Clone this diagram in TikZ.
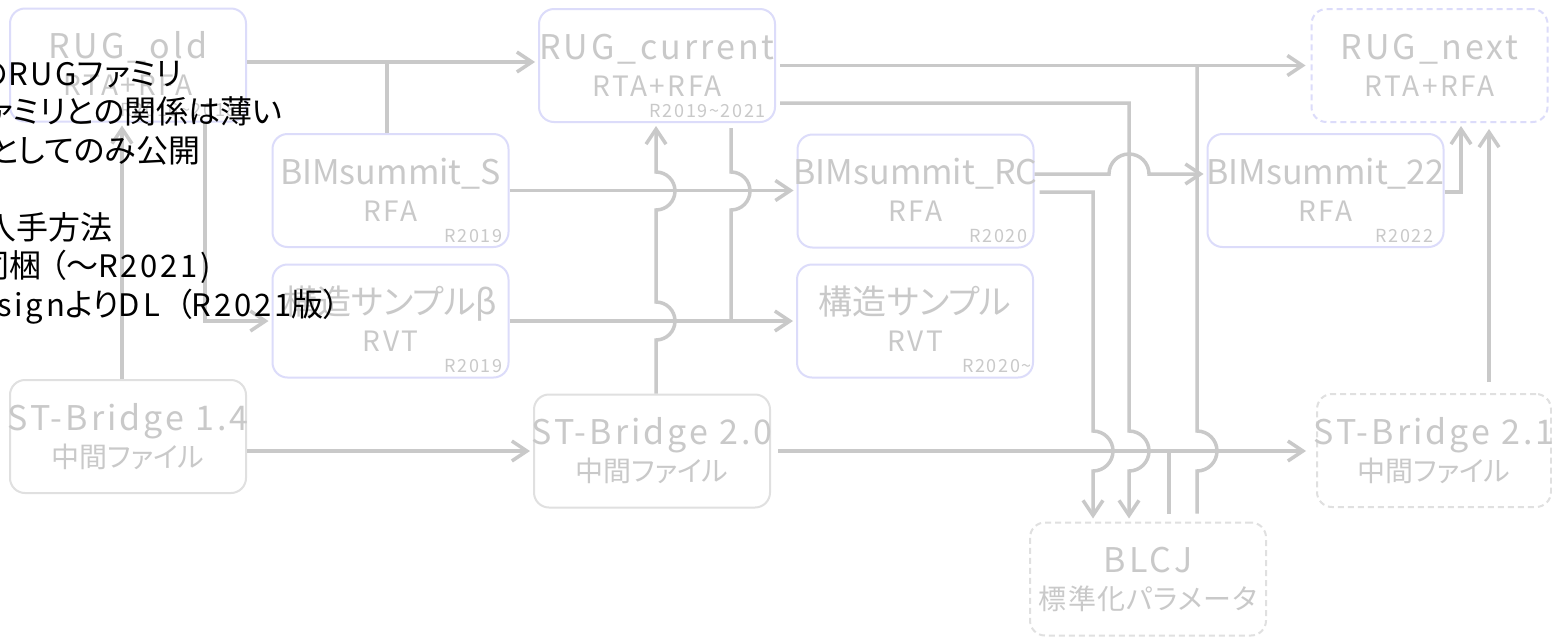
\documentclass[tikz,border=0pt]{standalone}
\usepackage{fontspec}
\setmainfont{Noto Sans CJK JP}[RawFeature=+palt]
\newfontfamily\nodefont{Noto Sans CJK JP}[RawFeature=+palt,LetterSpace=9]
\newfontfamily\nodefontn{Noto Sans CJK JP}[RawFeature=+palt]
\newfontfamily\nodefontm{Noto Sans CJK JP}[RawFeature=+palt,LetterSpace=4]
\newfontfamily\notelat{Noto Sans CJK JP}[LetterSpace=9]
\usetikzlibrary{arrows.meta}
\definecolor{lg}{HTML}{C9C9C9}
\definecolor{lav}{HTML}{DCDCFA}
\definecolor{bgr}{HTML}{E0E0E0}
\newcommand\latn[1]{{\notelat\fontsize{31}{38}\selectfont #1}}
\begin{document}
\begin{tikzpicture}[x=1pt,y=-1pt,
  box/.style={rounded corners=15pt,line width=2pt,inner sep=0pt,minimum width=236pt,minimum height=113pt},
  lavbox/.style={box,draw=lav},
  grbox/.style={box,draw=bgr},
  dsh/.style={dash pattern=on 6pt off 4pt},
  ta/.style={anchor=base,yshift=-51pt,inner sep=0pt,text=lg,font=\nodefont\fontsize{34}{40}\selectfont},
  tan/.style={ta,font=\nodefontn\fontsize{34}{40}\selectfont},
  tb/.style={anchor=base,yshift=-88pt,inner sep=0pt,text=lg,font=\nodefont\fontsize{28}{34}\selectfont},
  tbn/.style={tb,font=\nodefontn\fontsize{28}{34}\selectfont},
  tbm/.style={tb,font=\nodefontm\fontsize{28}{34}\selectfont},
  tc/.style={anchor=base east,xshift=-7pt,yshift=6pt,inner sep=0pt,text=lg,font=\nodefont\fontsize{18}{20}\selectfont},
  conn/.style={draw=lg,line width=3.5pt},
  arr/.style={conn,-{Straight Barb[length=15pt,width=20pt]},shorten >=3pt},
  note/.style={anchor=base west,inner sep=0pt,text=black,font=\fontsize{32}{38}\selectfont}]
\fill[white] (0,0) rectangle (1552,638);
\useasboundingbox (0,0) rectangle (1552,638);

% boxes
\node[lavbox,label={[ta]north:RUG\_old},label={[tb]north:RTA+RFA},label={[tc,xshift=-3pt]south east:R2016\textasciitilde 2018}] (rugold) at (128,65) {};
\node[lavbox,label={[ta]north:RUG\_current},label={[tb]north:RTA+RFA},label={[tc,xshift=-3pt]south east:R2019\textasciitilde 2021}] (rugcur) at (657,65.5) {};
\node[lavbox,dsh,label={[ta]north:RUG\_next},label={[tb]north:RTA+RFA}] (rugnext) at (1429.5,65.5) {};
\node[lavbox,label={[tan]north:BIMsummit\_S},label={[tb]north:RFA},label={[tc]south east:R2019}] (bims) at (390.5,190.5) {};
\node[lavbox,label={[tan]north:BIMsummit\_RC},label={[tb]north:RFA},label={[tc]south east:R2020}] (bimrc) at (915.5,191) {};
\node[lavbox,label={[tan]north:BIMsummit\_22},label={[tb]north:RFA},label={[tc,xshift=-4pt]south east:R2022}] (bim22) at (1325.5,190.5) {};
\node[lavbox,label={[tan]north:構造サンプルβ},label={[tb]north:RVT},label={[tc]south east:R2019}] (sampb) at (390.5,321) {};
\node[lavbox,label={[tan]north:構造サンプル},label={[tb]north:RVT},label={[tc,xshift=5pt]south east:R2020\textasciitilde}] (samp) at (915,321) {};
\node[grbox,label={[ta]north:ST-Bridge 1.4},label={[tbn]north:中間ファイル}] (stb14) at (128,436.5) {};
\node[grbox,label={[ta]north:ST-Bridge 2.0},label={[tbn]north:中間ファイル}] (stb20) at (652,451) {};
\node[grbox,dsh,minimum width=234pt,label={[ta]north:ST-Bridge 2.1},label={[tbn]north:中間ファイル}] (stb21) at (1434,450.5) {};
\node[grbox,dsh,label={[ta]north:BLCJ},label={[tbm]north:標準化パラメータ}] (blcj) at (1148,579) {};

% connectors
\coordinate (jB) at (387,62);
\coordinate (jL) at (731,321);
\coordinate (jO) at (1169,451);
\coordinate (jP) at (1197,65.5);
\draw[arr] (rugold.east |- jB) -- (rugcur.west |- jB);
\draw[conn] (bims.north -| jB) -- (jB);
\draw[arr] (stb14.north -| 122,0) -- (rugold.south -| 122,0);
\draw[arr] (rugold.south -| 205,0) |- (sampb.west);
\draw[arr] (stb14.east |- stb20.west) -- (stb20.west);
\draw[arr,shorten <=4pt,shorten >=5pt] (rugcur.east) -- (rugnext.west);
\draw[arr] (bims.east) -- (bimrc.west |- bims.east);
\draw[arr] (sampb.east) -- (samp.west);
\draw[arr,shorten <=7pt,shorten >=10pt] (stb20.east) -- (stb21.west |- stb20.east);
% rugcur -> blcj
\draw[arr,shorten <=4pt] (rugcur.east |- 0,103) -- (1129,103) -- (1129,431)
  arc[start angle=90,end angle=-90,radius=20pt] -- (blcj.north -| 1129,0);
% bimrc -> bim22
\draw[arr] (bimrc.east |- 0,174) -- (1109,174)
  arc[start angle=180,end angle=0,radius=20pt] -- (bim22.west |- 0,174);
% bimrc -> blcj
\draw[arr,shorten <=5pt] (bimrc.east |- 0,192) -- (1093,192) -- (1093,431)
  arc[start angle=90,end angle=-90,radius=20pt] -- (blcj.north -| 1093,0);
% stb20 -> rugcur
\draw[arr] (stb20.north -| 656,0) -- (656,340)
  arc[start angle=-90,end angle=90,radius=19pt] -- (656,210)
  arc[start angle=-90,end angle=90,radius=19pt] -- (rugcur.south -| 656,0);
% rugcur -> samp (joins)
\draw[conn,shorten <=5pt] (rugcur.south -| jL) -- (731,172)
  arc[start angle=90,end angle=-90,radius=19pt] -- (jL);
% blcj -> stb21 (joins)
\draw[conn,shorten <=8pt] (blcj.north -| jO) -- (jO);
% blcj -> rugnext (joins)
\draw[conn,shorten <=8pt] (blcj.north -| jP) -- (1197,471)
  arc[start angle=-90,end angle=90,radius=20pt] -- (jP);
% bim22 -> rugnext
\draw[arr] (bim22.east |- 0,192) -| (rugnext.south -| 1461,0);
% stb21 -> rugnext
\draw[arr,shorten <=11pt,shorten >=6pt] (stb21.north -| 1489,0) -- (rugnext.south -| 1489,0);

% note text
\node[note] (n1) at (8,85) {\llap{の}\latn{RUG}ファミリ};
\node[note] (n2) at (13,123.5) {\llap{ァ}ミリとの関係は薄い};
\node[note] (n3) at (-10,162) {としてのみ公開};
\node[note] (n5) at (16,239) {\llap{入}手方法};
\node[note] (n6) at (9,277.5) {\llap{同}梱\hspace{9pt}（～\latn{R2021)}};
\node[note] (n7) at (-3,316) {\latn{sign}より\latn{DL}\hspace{16pt}（\latn{R2021}版）};
\end{tikzpicture}
\end{document}
